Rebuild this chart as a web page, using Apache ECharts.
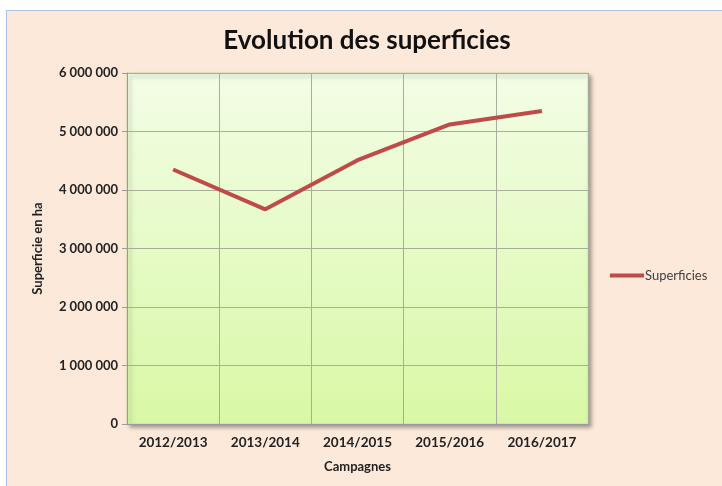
<!DOCTYPE html>
<html>
<head>
<meta charset="utf-8">
<script src="https://cdn.jsdelivr.net/npm/echarts@6/dist/echarts.min.js"></script>
<style>
  html, body { margin: 0; padding: 0; background: #fff; overflow: hidden; }
  #chart {
    position: absolute; left: 6px; top: 10px;
    width: 720px; height: 480px;
    border: 1px solid #a9c2ea;
    background: #fde9da;
  }
</style>
</head>
<body>
<div id="chart"></div>
<script>
var campagnes = ['2012/2013', '2013/2014', '2014/2015', '2015/2016', '2016/2017'];
var superficies = [4350000, 3670000, 4510000, 5120000, 5350000];

var chart = echarts.init(document.getElementById('chart'));

function fmt(v) {
    return String(v).replace(/\B(?=(\d{3})+(?!\d))/g, ' ');
}

var option = {
    animation: false,
    textStyle: { fontFamily: 'Lato' },
    title: {
        text: 'Evolution des superficies',
        left: 'center',
        top: 12,
        textStyle: { fontSize: 26, fontWeight: 'bold', color: '#111', fontFamily: 'Lato' }
    },
    legend: {
        orient: 'vertical',
        left: 598,
        top: 253,
        itemWidth: 34,
        itemHeight: 4,
        icon: 'rect',
        textStyle: { fontSize: 13, color: '#404040', padding: [0, 0, 0, -4] },
        data: ['Superficies']
    },
    grid: {
        left: 120, top: 62, width: 461, height: 351,
        show: true,
        borderWidth: 1,
        borderColor: '#cfdca8',
        backgroundColor: new echarts.graphic.LinearGradient(0, 0, 0, 1, [
            { offset: 0, color: '#f3fde6' },
            { offset: 1, color: '#d9f8a6' }
        ]),
        shadowColor: 'rgba(0,0,0,0.35)',
        shadowBlur: 4,
        shadowOffsetX: 3,
        shadowOffsetY: 3
    },
    xAxis: {
        type: 'category',
        data: campagnes,
        boundaryGap: true,
        name: 'Campagnes',
        nameLocation: 'middle',
        nameGap: 36,
        nameTextStyle: { fontSize: 13, fontWeight: 'bold', color: '#222' },
        axisLine: { lineStyle: { color: '#9a9a9a' } },
        axisTick: { show: false },
        axisLabel: { fontSize: 13.5, fontWeight: 'bold', color: '#222', margin: 12 },
        splitLine: { show: true, lineStyle: { color: '#a8ad9c' } }
    },
    yAxis: {
        type: 'value',
        min: 0,
        max: 6000000,
        interval: 1000000,
        name: 'Superficie en ha',
        nameLocation: 'middle',
        nameGap: 83,
        nameTextStyle: { fontSize: 13, fontWeight: 'bold', color: '#222' },
        axisLine: { show: true, lineStyle: { color: '#9a9a9a' } },
        axisTick: { show: true, inside: false, length: 5, lineStyle: { color: '#9a9a9a' } },
        axisLabel: { fontSize: 13, fontWeight: 'bold', color: '#222', margin: 9, formatter: fmt },
        splitLine: { lineStyle: { color: '#a8ad9c' } }
    },
    series: [{
        name: 'Superficies',
        type: 'line',
        data: superficies,
        symbol: 'none',
        color: '#be4b48',
        lineStyle: { width: 4, color: '#be4b48' }
    }]
};

chart.setOption(option);
</script>
</body>
</html>
